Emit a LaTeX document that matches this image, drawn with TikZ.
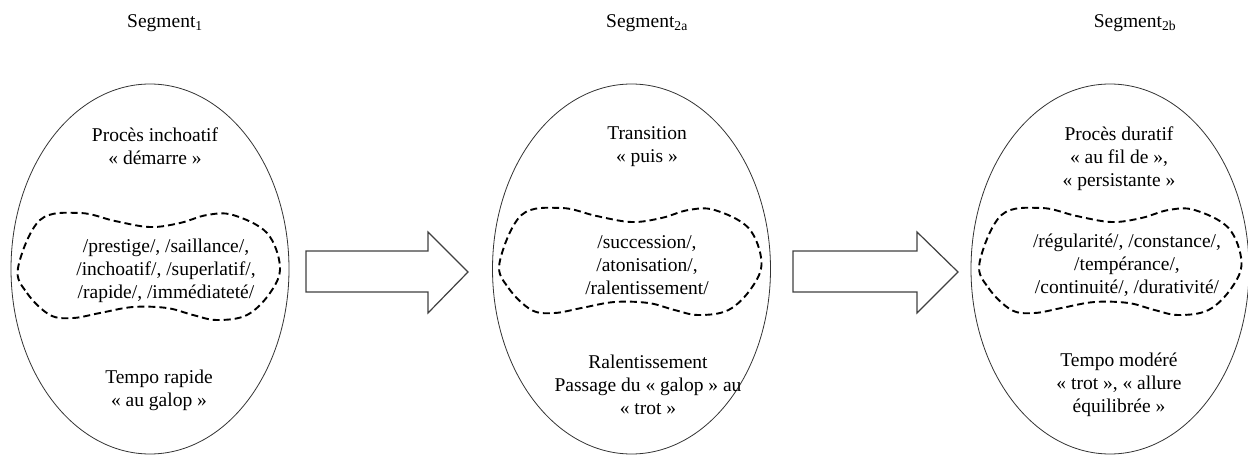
\documentclass[tikz,border=0pt]{standalone}
\usepackage{fontspec}
\setmainfont{Liberation Serif}
\usetikzlibrary{shapes.geometric}
\begin{document}
\begin{tikzpicture}[x=1pt,y=-1pt,
  egg/.style={draw=black!80, line width=0.8pt, ellipse, minimum width=278pt, minimum height=370pt, inner sep=0pt},
  txt/.style={align=center, font=\fontsize{19.5}{23}\selectfont, inner sep=0pt},
  blob/.style={draw=black, line width=1.9pt, dash pattern=on 7pt off 4pt},
  blockarrow/.style={draw=black!75, line width=1.2pt, fill=white, line join=miter}]
\useasboundingbox (0,0) rectangle (1248,455);

% ellipses
\node[egg] (e1) at (150,269) {};
\node[egg] (e2) at (631.5,269) {};
\node[egg] (e3) at (1110,269) {};

% segment titles
\node[txt] (s1) at (165,23) {Segment\textsubscript{1}};
\node[txt] (s2) at (647,23) {Segment\textsubscript{2a}};
\node[txt] (s3) at (1135,23) {Segment\textsubscript{2b}};

% dashed blobs
\foreach \dx/\dy/\nm in {0/0/b1, 481.5/-5/b2, 961.5/-5/b3}{
  \begin{scope}[shift={(\dx,\dy)}]
    \draw[blob] plot[smooth cycle, tension=0.6] coordinates {
      (18,268) (27,293) (50,315) (73,318) (100,313) (133,307) (167,308)
      (193,315) (217,320) (247,315) (270,293) (280,267) (267,233)
      (233,215) (207,215) (180,223) (150,227) (115,221) (80,213) (40,220)};
  \end{scope}
}

% block arrows
\draw[blockarrow] (306,251) -- (428,251) -- (428,232) -- (468,272) -- (428,313) -- (428,292) -- (306,292) -- cycle;
\draw[blockarrow] (793,251) -- (917,251) -- (917,232) -- (958,272) -- (917,313) -- (917,292) -- (793,292) -- cycle;

% texts segment 1
\node[txt] (t1a) at (155,146.5) {Procès inchoatif\\« démarre »};
\node[txt] (t1b) at (166,271) {/prestige/, /saillance/,\\/inchoatif/, /superlatif/,\\/rapide/, /immédiateté/};
\node[txt] (t1c) at (159,390.5) {Tempo rapide\\« au galop »};

% texts segment 2a
\node[txt] (t2a) at (647,146.5) {Transition\\« puis »};
\node[txt] (t2b) at (647,265.5) {/succession/,\\/atonisation/,\\/ralentissement/};
\node[txt] (t2c) at (648,385) {Ralentissement\\Passage du « galop » au\\« trot »};

% texts segment 2b
\node[txt] (t3a) at (1119,158.5) {Procès duratif\\« au fil de »,\\« persistante »};
\node[txt] (t3b) at (1127,265.5) {/régularité/, /constance/,\\/tempérance/,\\/continuité/, /durativité/};
\node[txt] (t3c) at (1119,385) {Tempo modéré\\« trot », « allure\\équilibrée »};
\end{tikzpicture}
\end{document}
